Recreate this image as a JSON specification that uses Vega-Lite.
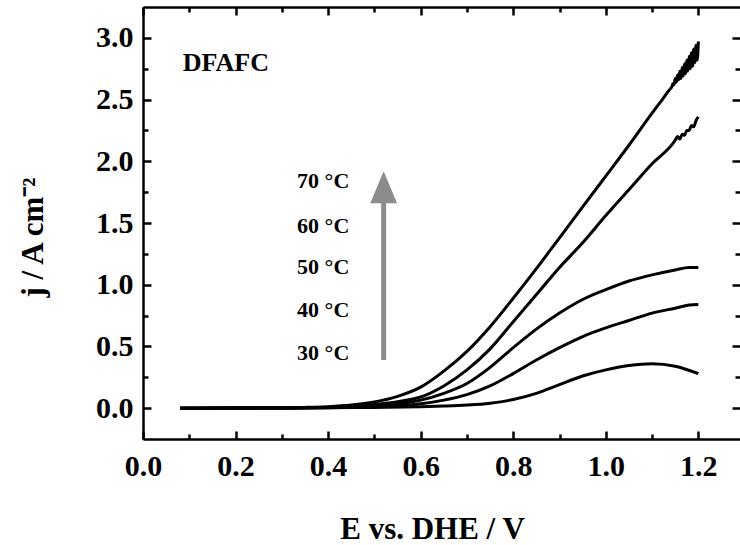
{
  "$schema": "https://vega.github.io/schema/vega-lite/v6.json",
  "width": 597,
  "height": 432,
  "autosize": {"type": "none"},
  "padding": {"left": 143, "top": 7, "right": 0, "bottom": 106},
  "background": "white",
  "config": {
    "view": {"stroke": null},
    "axis": {
      "labelFont": "Liberation Serif", "labelFontWeight": "bold", "labelFontSize": 30, "labelColor": "black",
      "titleFont": "Liberation Serif", "titleFontWeight": "bold", "titleFontSize": 31, "titleColor": "black",
      "domainColor": "black", "domainWidth": 2.5, "tickColor": "black", "tickWidth": 2.5, "ticks": true,
      "grid": false, "labelFlush": false
    }
  },
  "datasets": {
    "curves": [
      {"T": "70", "E": 0.08, "j": 0}, {"T": "70", "E": 0.15, "j": 0}, {"T": "70", "E": 0.2, "j": 0.001}, {"T": "70", "E": 0.25, "j": 0.002}, {"T": "70", "E": 0.3, "j": 0.003}, {"T": "70", "E": 0.35, "j": 0.006}, {"T": "70", "E": 0.4, "j": 0.012}, {"T": "70", "E": 0.45, "j": 0.025}, {"T": "70", "E": 0.5, "j": 0.05}, {"T": "70", "E": 0.55, "j": 0.095}, {"T": "70", "E": 0.6, "j": 0.17}, {"T": "70", "E": 0.65, "j": 0.3}, {"T": "70", "E": 0.7, "j": 0.46}, {"T": "70", "E": 0.75, "j": 0.66}, {"T": "70", "E": 0.8, "j": 0.89}, {"T": "70", "E": 0.85, "j": 1.13}, {"T": "70", "E": 0.9, "j": 1.38}, {"T": "70", "E": 0.95, "j": 1.63}, {"T": "70", "E": 1.0, "j": 1.88}, {"T": "70", "E": 1.05, "j": 2.13}, {"T": "70", "E": 1.1, "j": 2.39}, {"T": "70", "E": 1.12, "j": 2.49}, {"T": "70", "E": 1.14, "j": 2.59}, {"T": "70", "E": 1.1425, "j": 2.6}, {"T": "70", "E": 1.145, "j": 2.63}, {"T": "70", "E": 1.1475, "j": 2.62}, {"T": "70", "E": 1.15, "j": 2.67}, {"T": "70", "E": 1.1525, "j": 2.64}, {"T": "70", "E": 1.155, "j": 2.7}, {"T": "70", "E": 1.1575, "j": 2.66}, {"T": "70", "E": 1.16, "j": 2.73}, {"T": "70", "E": 1.1625, "j": 2.67}, {"T": "70", "E": 1.165, "j": 2.76}, {"T": "70", "E": 1.1675, "j": 2.69}, {"T": "70", "E": 1.17, "j": 2.79}, {"T": "70", "E": 1.1725, "j": 2.71}, {"T": "70", "E": 1.175, "j": 2.82}, {"T": "70", "E": 1.1775, "j": 2.73}, {"T": "70", "E": 1.18, "j": 2.85}, {"T": "70", "E": 1.1825, "j": 2.75}, {"T": "70", "E": 1.185, "j": 2.88}, {"T": "70", "E": 1.1875, "j": 2.77}, {"T": "70", "E": 1.19, "j": 2.91}, {"T": "70", "E": 1.1925, "j": 2.8}, {"T": "70", "E": 1.195, "j": 2.94}, {"T": "70", "E": 1.1975, "j": 2.82}, {"T": "70", "E": 1.2, "j": 2.97},
      {"T": "60", "E": 0.08, "j": 0}, {"T": "60", "E": 0.2, "j": 0.001}, {"T": "60", "E": 0.3, "j": 0.002}, {"T": "60", "E": 0.4, "j": 0.008}, {"T": "60", "E": 0.45, "j": 0.016}, {"T": "60", "E": 0.5, "j": 0.03}, {"T": "60", "E": 0.55, "j": 0.052}, {"T": "60", "E": 0.6, "j": 0.09}, {"T": "60", "E": 0.65, "j": 0.18}, {"T": "60", "E": 0.7, "j": 0.31}, {"T": "60", "E": 0.75, "j": 0.48}, {"T": "60", "E": 0.8, "j": 0.7}, {"T": "60", "E": 0.85, "j": 0.92}, {"T": "60", "E": 0.9, "j": 1.14}, {"T": "60", "E": 0.95, "j": 1.34}, {"T": "60", "E": 1.0, "j": 1.56}, {"T": "60", "E": 1.05, "j": 1.77}, {"T": "60", "E": 1.1, "j": 1.98}, {"T": "60", "E": 1.15, "j": 2.17}, {"T": "60", "E": 1.155, "j": 2.2}, {"T": "60", "E": 1.16, "j": 2.18}, {"T": "60", "E": 1.165, "j": 2.22}, {"T": "60", "E": 1.17, "j": 2.21}, {"T": "60", "E": 1.175, "j": 2.25}, {"T": "60", "E": 1.18, "j": 2.25}, {"T": "60", "E": 1.185, "j": 2.29}, {"T": "60", "E": 1.19, "j": 2.28}, {"T": "60", "E": 1.195, "j": 2.33}, {"T": "60", "E": 1.2, "j": 2.36},
      {"T": "50", "E": 0.08, "j": 0}, {"T": "50", "E": 0.2, "j": 0.001}, {"T": "50", "E": 0.3, "j": 0.002}, {"T": "50", "E": 0.4, "j": 0.006}, {"T": "50", "E": 0.45, "j": 0.012}, {"T": "50", "E": 0.5, "j": 0.02}, {"T": "50", "E": 0.55, "j": 0.036}, {"T": "50", "E": 0.6, "j": 0.065}, {"T": "50", "E": 0.65, "j": 0.12}, {"T": "50", "E": 0.7, "j": 0.2}, {"T": "50", "E": 0.75, "j": 0.33}, {"T": "50", "E": 0.8, "j": 0.49}, {"T": "50", "E": 0.85, "j": 0.64}, {"T": "50", "E": 0.9, "j": 0.77}, {"T": "50", "E": 0.95, "j": 0.88}, {"T": "50", "E": 1.0, "j": 0.96}, {"T": "50", "E": 1.05, "j": 1.03}, {"T": "50", "E": 1.1, "j": 1.08}, {"T": "50", "E": 1.15, "j": 1.12}, {"T": "50", "E": 1.18, "j": 1.14}, {"T": "50", "E": 1.2, "j": 1.14},
      {"T": "40", "E": 0.08, "j": 0}, {"T": "40", "E": 0.2, "j": 0.001}, {"T": "40", "E": 0.3, "j": 0.002}, {"T": "40", "E": 0.4, "j": 0.004}, {"T": "40", "E": 0.45, "j": 0.007}, {"T": "40", "E": 0.5, "j": 0.012}, {"T": "40", "E": 0.55, "j": 0.02}, {"T": "40", "E": 0.6, "j": 0.035}, {"T": "40", "E": 0.65, "j": 0.065}, {"T": "40", "E": 0.7, "j": 0.11}, {"T": "40", "E": 0.75, "j": 0.18}, {"T": "40", "E": 0.8, "j": 0.28}, {"T": "40", "E": 0.85, "j": 0.39}, {"T": "40", "E": 0.9, "j": 0.49}, {"T": "40", "E": 0.95, "j": 0.58}, {"T": "40", "E": 1.0, "j": 0.65}, {"T": "40", "E": 1.05, "j": 0.71}, {"T": "40", "E": 1.1, "j": 0.77}, {"T": "40", "E": 1.15, "j": 0.81}, {"T": "40", "E": 1.18, "j": 0.835}, {"T": "40", "E": 1.2, "j": 0.84},
      {"T": "30", "E": 0.08, "j": 0}, {"T": "30", "E": 0.2, "j": 0.001}, {"T": "30", "E": 0.3, "j": 0.002}, {"T": "30", "E": 0.4, "j": 0.003}, {"T": "30", "E": 0.5, "j": 0.006}, {"T": "30", "E": 0.6, "j": 0.012}, {"T": "30", "E": 0.65, "j": 0.017}, {"T": "30", "E": 0.7, "j": 0.025}, {"T": "30", "E": 0.75, "j": 0.04}, {"T": "30", "E": 0.8, "j": 0.07}, {"T": "30", "E": 0.85, "j": 0.12}, {"T": "30", "E": 0.9, "j": 0.19}, {"T": "30", "E": 0.95, "j": 0.26}, {"T": "30", "E": 1.0, "j": 0.31}, {"T": "30", "E": 1.05, "j": 0.345}, {"T": "30", "E": 1.1, "j": 0.36}, {"T": "30", "E": 1.15, "j": 0.34}, {"T": "30", "E": 1.2, "j": 0.28}
    ],
    "temps": [
      {"label": "70 °C", "x": 0.333, "y": 1.78},
      {"label": "60 °C", "x": 0.333, "y": 1.42},
      {"label": "50 °C", "x": 0.333, "y": 1.09},
      {"label": "40 °C", "x": 0.333, "y": 0.74},
      {"label": "30 °C", "x": 0.333, "y": 0.39}
    ],
    "name": [{"label": "DFAFC", "x": 0.086, "y": 2.73}],
    "shaft": [{"x": 0.52, "y": 0.39, "y2": 1.69}],
    "head": [{"x": 0.52, "y": 1.79}]
  },
  "layer": [
    {
      "data": {"name": "curves"},
      "mark": {"type": "line", "color": "black", "strokeWidth": 3, "interpolate": "monotone"},
      "encoding": {
        "x": {"field": "E", "type": "quantitative", "scale": {"domain": [0, 1.29], "nice": false, "zero": false},
          "axis": {"orient": "bottom", "values": [0, 0.2, 0.4, 0.6, 0.8, 1.0, 1.2], "format": ".1f", "tickSize": 8, "offset": -8, "domain": false, "labelPadding": 12,
            "title": "E vs. DHE / V", "titleX": 289, "titleY": 107, "titleBaseline": "alphabetic", "titleAlign": "center"}},
        "y": {"field": "j", "type": "quantitative", "scale": {"domain": [-0.25, 3.25], "nice": false, "zero": false},
          "axis": {"orient": "left", "values": [0, 0.5, 1, 1.5, 2, 2.5, 3], "format": ".1f", "tickSize": 8, "offset": -8, "domain": false, "labelPadding": 10,
            "title": "j / A cm⁻²", "titleAngle": -90, "titleX": -109, "titleY": 230, "titleBaseline": "alphabetic", "titleAlign": "center"}},
        "detail": {"field": "T"}
      }
    },
    {
      "data": {"name": "temps"},
      "transform": [{"filter": "datum.y > 1"}],
      "mark": {"type": "text", "align": "left", "baseline": "alphabetic", "font": "Liberation Serif", "fontWeight": "bold", "fontSize": 22, "color": "black"},
      "encoding": {
        "x": {"field": "x", "type": "quantitative", "scale": {"domain": [0, 1.29], "nice": false, "zero": false},
          "axis": {"orient": "bottom", "values": [0.1, 0.3, 0.5, 0.7, 0.9, 1.1], "tickSize": 5, "offset": -5, "labels": false, "domain": false, "title": null}},
        "y": {"field": "y", "type": "quantitative", "scale": {"domain": [-0.25, 3.25], "nice": false, "zero": false},
          "axis": {"orient": "left", "values": [0.25, 0.75, 1.25, 1.75, 2.25, 2.75], "tickSize": 5, "offset": -5, "labels": false, "domain": false, "title": null}},
        "text": {"field": "label"}
      }
    },
    {
      "data": {"name": "temps"},
      "transform": [{"filter": "datum.y < 1"}],
      "mark": {"type": "text", "align": "left", "baseline": "alphabetic", "font": "Liberation Serif", "fontWeight": "bold", "fontSize": 22, "color": "black"},
      "encoding": {
        "x": {"field": "x", "type": "quantitative", "scale": {"domain": [0, 1.29], "nice": false, "zero": false},
          "axis": {"orient": "bottom", "ticks": false, "labels": false, "domain": true, "title": null}},
        "y": {"field": "y", "type": "quantitative", "scale": {"domain": [-0.25, 3.25], "nice": false, "zero": false},
          "axis": {"orient": "left", "ticks": false, "labels": false, "domain": true, "title": null}},
        "text": {"field": "label"}
      }
    },
    {
      "data": {"name": "name"},
      "mark": {"type": "text", "align": "left", "baseline": "alphabetic", "font": "Liberation Serif", "fontWeight": "bold", "fontSize": 26, "color": "black"},
      "encoding": {
        "x": {"field": "x", "type": "quantitative", "scale": {"domain": [0, 1.29], "nice": false, "zero": false},
          "axis": {"orient": "top", "values": [0, 0.2, 0.4, 0.6, 0.8, 1.0, 1.2], "tickSize": 8, "offset": -8, "labels": false, "domain": false, "title": null}},
        "y": {"field": "y", "type": "quantitative", "scale": {"domain": [-0.25, 3.25], "nice": false, "zero": false},
          "axis": {"orient": "right", "values": [0, 0.5, 1, 1.5, 2, 2.5, 3], "tickSize": 8, "offset": -8, "labels": false, "domain": false, "title": null}},
        "text": {"field": "label"}
      }
    },
    {
      "data": {"name": "shaft"},
      "mark": {"type": "rule", "color": "#8c8c8c", "strokeWidth": 5},
      "encoding": {
        "x": {"field": "x", "type": "quantitative", "scale": {"domain": [0, 1.29], "nice": false, "zero": false},
          "axis": {"orient": "top", "values": [0.1, 0.3, 0.5, 0.7, 0.9, 1.1], "tickSize": 5, "offset": -5, "labels": false, "domain": false, "title": null}},
        "y": {"field": "y", "type": "quantitative", "scale": {"domain": [-0.25, 3.25], "nice": false, "zero": false},
          "axis": {"orient": "right", "values": [0.25, 0.75, 1.25, 1.75, 2.25, 2.75], "tickSize": 5, "offset": -5, "labels": false, "domain": false, "title": null}},
        "y2": {"field": "y2"}
      }
    },
    {
      "data": {"name": "head"},
      "mark": {"type": "point", "shape": "M0,-1L0.84,1L-0.84,1Z", "size": 1024, "filled": true, "color": "#8c8c8c", "opacity": 1},
      "encoding": {
        "x": {"field": "x", "type": "quantitative", "scale": {"domain": [0, 1.29], "nice": false, "zero": false},
          "axis": {"orient": "top", "ticks": false, "labels": false, "domain": true, "title": null}},
        "y": {"field": "y", "type": "quantitative", "scale": {"domain": [-0.25, 3.25], "nice": false, "zero": false}, "axis": null}
      }
    }
  ],
  "resolve": {"axis": {"x": "independent", "y": "independent"}}
}
